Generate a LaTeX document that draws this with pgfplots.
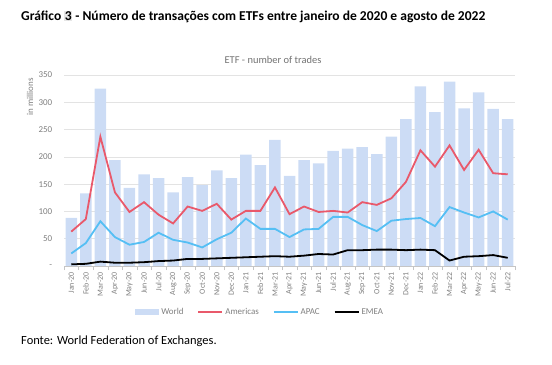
\documentclass[border=0pt]{standalone}
\usepackage{fontspec}
\setmainfont{Carlito}
\usepackage{pgfplots}
\usepackage{pgfplotstable}
\pgfplotsset{compat=1.18}
\definecolor{worldc}{HTML}{CCDCF5}
\definecolor{amc}{HTML}{E9596B}
\definecolor{apc}{HTML}{55BFF4}
\definecolor{txtg}{HTML}{7F7F7F}
\definecolor{gridc}{HTML}{E3E3E3}
\definecolor{hl}{HTML}{E6E6E6}

\pgfplotstableread{
x world am apac emea
0 88 63 23 3
1 133 86 42 4
2 325 237 82 8
3 194 135 53 6
4 143 99 39 6
5 168 117 44 7
6 161 94 61 9
7 135 78 48 10
8 163 109 43 13
9 148 101 34 13
10 175 114 49 14
11 161 85 61 15
12 204 101 87 16
13 185 101 68 17
14 231 144 68 18
15 165 95 53 17
16 194 109 67 19
17 188 99 68 22
18 211 101 90 21
19 215 98 90 29
20 218 117 75 29
21 205 112 64 30
22 237 124 83 30
23 269 154 86 29
24 329 212 88 30
25 282 182 73 29
26 338 221 108 10
27 289 176 98 17
28 318 213 89 18
29 288 170 100 20
30 269 168 85 15
}\data

\begin{document}
\begin{tikzpicture}
\useasboundingbox (0,0) rectangle (552bp,365bp);
\node[anchor=west, inner sep=0pt, font=\bfseries\fontsize{13.6}{15}\selectfont] at (21bp,348bp)
  {Gráfico {\setlength{\fboxsep}{0.5pt}\colorbox{hl}{3}} - Número de transações com ETFs entre janeiro de 2020 e agosto de 2022};
\node[anchor=west, inner sep=0pt, font=\fontsize{12.5}{14}\selectfont] at (21bp,24bp)
  {Fonte: World Federation of Exchanges.};
\node[text=txtg!90!black, inner sep=0pt, font=\fontsize{10.5}{12}\selectfont] at (273bp,305bp) {ETF - number of trades};
\node[text=txtg, rotate=90, inner sep=0pt, font=\fontsize{9}{10}\selectfont] at (30bp,268bp) {in millions};
\begin{axis}[
  at={(64bp,99bp)}, anchor=south west,
  scale only axis, width=451bp, height=191bp,
  xmin=-0.5, xmax=30.5, ymin=0, ymax=350,
  axis x line*=bottom, axis y line*=left,
  y axis line style={draw=none},
  x axis line style={draw=gridc!70!gray},
  ytick={0,50,...,350},
  yticklabels={-,50,100,150,200,250,300,350},
  ytick style={draw=none},
  ymajorgrids, grid style={draw=gridc, line width=0.5pt},
  yticklabel style={text=txtg, font=\fontsize{9}{10}\selectfont, xshift=-4bp},
  xtick={0,...,30},
  xticklabels={Jan-20,Feb-20,Mar-20,Apr-20,May-20,Jun-20,Jul-20,Aug-20,Sep-20,Oct-20,Nov-20,Dec-20,Jan-21,Feb-21,Mar-21,Apr-21,May-21,Jun-21,Jul-21,Aug-21,Sep-21,Oct-21,Nov-21,Dec-21,Jan-22,Feb-22,Mar-22,Apr-22,May-22,Jun-22,Jul-22},
  major x tick style={draw=none},
  minor xtick={-0.5,0.5,...,30.5},
  minor tick length=4bp,
  tick align=outside,
  minor x tick style={draw=gridc!70!gray},
  xticklabel style={rotate=90, anchor=east, text=txtg, font=\fontsize{8}{9}\selectfont, inner sep=2pt},
  legend columns=4,
  legend style={at={(0.435,-0.241)}, anchor=center, draw=none, fill=none,
    font=\fontsize{9}{10}\selectfont, text=txtg,
    /tikz/every even column/.append style={column sep=12bp}},
]
\addplot[ybar, bar width=11.5bp, fill=worldc, draw=none,
  legend image code/.code={\fill[worldc] (0bp,-3bp) rectangle (24bp,3bp);}]
  table[x=x,y=world]{\data};
\addlegendentry{World}
\addplot[amc, line width=1.8bp, no marks,
  legend image code/.code={\draw[amc, line width=1.8bp] (0bp,0bp) -- (24bp,0bp);}]
  table[x=x,y=am]{\data};
\addlegendentry{Americas}
\addplot[apc, line width=1.8bp, no marks,
  legend image code/.code={\draw[apc, line width=1.8bp] (0bp,0bp) -- (24bp,0bp);}]
  table[x=x,y=apac]{\data};
\addlegendentry{APAC}
\addplot[black, line width=1.8bp, no marks,
  legend image code/.code={\draw[black, line width=1.8bp] (0bp,0bp) -- (24bp,0bp);}]
  table[x=x,y=emea]{\data};
\addlegendentry{EMEA}
\end{axis}
\end{tikzpicture}
\end{document}
